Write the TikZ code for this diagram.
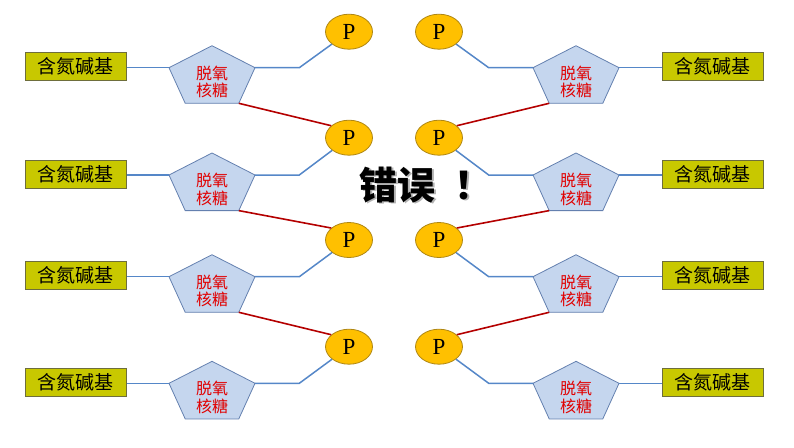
\documentclass[tikz,border=0pt]{standalone}
\usepackage{fontspec}
\setmainfont{Liberation Serif}
\newfontfamily\cjk{Noto Sans CJK SC}
\usetikzlibrary{shapes.geometric}
\definecolor{basefill}{RGB}{200,200,0}
\definecolor{basedraw}{RGB}{110,110,60}
\definecolor{sugarfill}{RGB}{197,214,238}
\definecolor{sugardraw}{RGB}{100,128,175}
\definecolor{sugartxt}{RGB}{225,0,0}
\definecolor{phosfill}{RGB}{255,192,0}
\definecolor{phosdraw}{RGB}{175,135,20}
\definecolor{linkblue}{RGB}{85,135,200}
\definecolor{linkred}{RGB}{180,0,0}
\begin{document}
\begin{tikzpicture}[x=1pt,y=-1pt,
  basebox/.style={draw=basedraw, fill=basefill, line width=1pt, minimum width=101pt, minimum height=28pt, inner sep=0pt, font=\cjk\fontsize{19}{19}\selectfont},
  sugar/.style={draw=sugardraw, fill=sugarfill, line width=0.8pt, line join=miter},
  sugartext/.style={text=sugartxt, font=\cjk\fontsize{16}{17.5}\selectfont, align=center, inner sep=0pt},
  phos/.style={ellipse, draw=phosdraw, fill=phosfill, line width=0.8pt, minimum width=47pt, minimum height=35pt, inner sep=0pt, font=\fontsize{23}{23}\selectfont},
  blink/.style={draw=linkblue, line width=1.5pt},
  rlink/.style={draw=linkred, line width=1.6pt},
  errtext/.style={font=\cjk\bfseries\fontsize{38}{38}\selectfont, inner sep=0pt, anchor=west}]
\useasboundingbox (0,0) rectangle (794,447);
% left column
\foreach \y/\py [count=\i] in {67.7/31.7, 175/137.7, 276.7/240, 383.3/346.7} {
  \coordinate (tL\i) at (212,\y-22);
  \coordinate (wL\i) at (169,\y);
  \coordinate (eL\i) at (255,\y);
  \coordinate (swL\i) at (185.2,\y+35.6);
  \coordinate (seL\i) at (238.8,\y+35.6);
  \coordinate (kL\i) at (299.3,\y);
  \draw[sugar] (tL\i) -- (eL\i) -- (seL\i) -- (swL\i) -- (wL\i) -- cycle;
  \node[sugartext] (sL\i) at (212,\y+14.3) {脱氧\\核糖};
  \node[basebox] (bL\i) at (75.5,\y-1) {含氮碱基};
  \node[phos] (pL\i) at (349,\py) {P};
  \draw[blink] (bL\i.east|-wL\i) -- (wL\i);
  \draw[blink] (eL\i) -- (kL\i) -- (pL\i);
}
% right column
\foreach \y/\py [count=\i] in {67.7/31.7, 175/137.7, 276.7/240, 383.3/346.7} {
  \coordinate (tR\i) at (576,\y-22);
  \coordinate (wR\i) at (533,\y);
  \coordinate (eR\i) at (619,\y);
  \coordinate (swR\i) at (549.2,\y+35.6);
  \coordinate (seR\i) at (602.8,\y+35.6);
  \coordinate (kR\i) at (488.7,\y);
  \draw[sugar] (tR\i) -- (eR\i) -- (seR\i) -- (swR\i) -- (wR\i) -- cycle;
  \node[sugartext] (sR\i) at (576,\y+14.3) {脱氧\\核糖};
  \node[basebox] (bR\i) at (712.5,\y-1) {含氮碱基};
  \node[phos] (pR\i) at (439,\py) {P};
  \draw[blink] (bR\i.west|-eR\i) -- (eR\i);
  \draw[blink] (wR\i) -- (kR\i) -- (pR\i);
}
% sugar-phosphate links
\foreach \i/\j in {1/2, 2/3, 3/4} {
  \draw[rlink] (seL\i) -- (pL\j.146);
  \draw[rlink] (swR\i) -- (pR\j.34);
}
\node[errtext, text=black!30] (errshadow) at (361,186.5) {错误\hspace{19pt}！};
\node[errtext, text=black] (err) at (359.5,185) {错误\hspace{19pt}！};
\end{tikzpicture}
\end{document}
